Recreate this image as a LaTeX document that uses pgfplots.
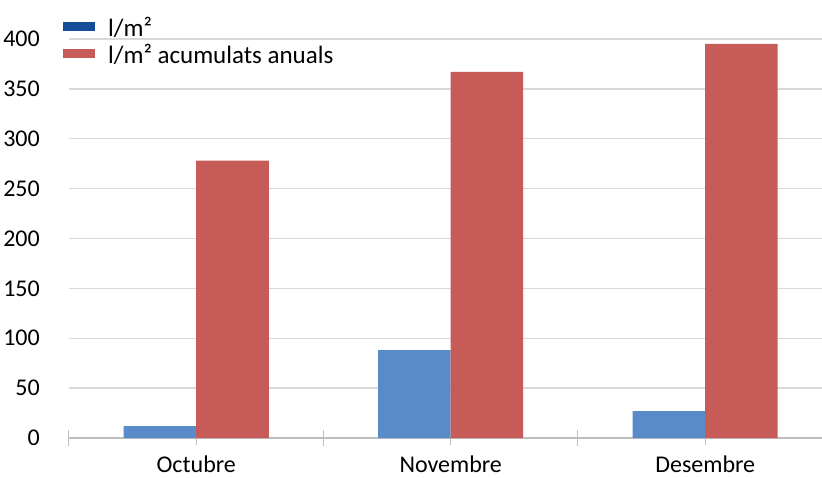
\documentclass[border=0pt]{standalone}
\usepackage{fontspec}
\setmainfont{Carlito}
\usepackage{pgfplots}
\pgfplotsset{compat=1.18}
\definecolor{barblue}{RGB}{88,139,199}
\definecolor{barred}{RGB}{199,91,88}
\definecolor{legblue}{RGB}{20,77,152}
\definecolor{gridgray}{RGB}{217,217,217}
\definecolor{axisgray}{RGB}{190,190,190}
\begin{document}
\begin{tikzpicture}
\begin{axis}[
  scale only axis, width=753pt, height=399pt,
  xmin=-0.5, xmax=2.459, ymin=0, ymax=400,
  ybar=0pt, bar width=0.285,
  ytick={0,50,...,400},
  xtick={0,1,2}, xticklabels={Octubre,Novembre,Desembre},
  extra x ticks={-0.5,0.5,1.5}, extra x tick labels={},
  extra x tick style={tick align=center, major tick length=16pt},
  ymajorgrids, grid style={draw=gridgray, line width=1.3pt},
  axis lines*=left,
  x axis line style={draw=axisgray, line width=1.3pt},
  y axis line style={draw=none},
  ytick style={draw=none},
  xtick style={draw=axisgray, line width=1pt},
  tick align=outside, major tick length=7pt,
  /pgf/number format/assume math mode=true,
  tick label style={font=\fontsize{24}{28}\selectfont},
  yticklabel style={inner sep=0pt, xshift=-22pt},
  xticklabel style={inner sep=0pt, text depth=0pt, yshift=-11pt},
  legend style={at={(-0.008,1.058)}, anchor=north west, draw=none, fill=none,
    font=\fontsize{25}{29}\selectfont, row sep=6pt, inner sep=0pt,
    nodes={inner sep=1pt, text depth=0pt}},
  legend cell align=left,
]
\addplot[fill=barblue, draw=none,
  legend image code/.code={\fill[legblue] (0pt,-4pt) rectangle (32pt,5pt);}]
  coordinates {(0,12) (1,88) (2,27)};
\addlegendentry{\hspace{12pt}l/m²}
\addplot[fill=barred, draw=none,
  legend image code/.code={\fill[barred] (0pt,-4pt) rectangle (32pt,5pt);}]
  coordinates {(0,278) (1,367) (2,395)};
\addlegendentry{\hspace{12pt}l/m² acumulats anuals}
\end{axis}
\pgfresetboundingbox
\path[use as bounding box] (-69pt,-39pt) rectangle (753pt,438pt);
\end{tikzpicture}
\end{document}
